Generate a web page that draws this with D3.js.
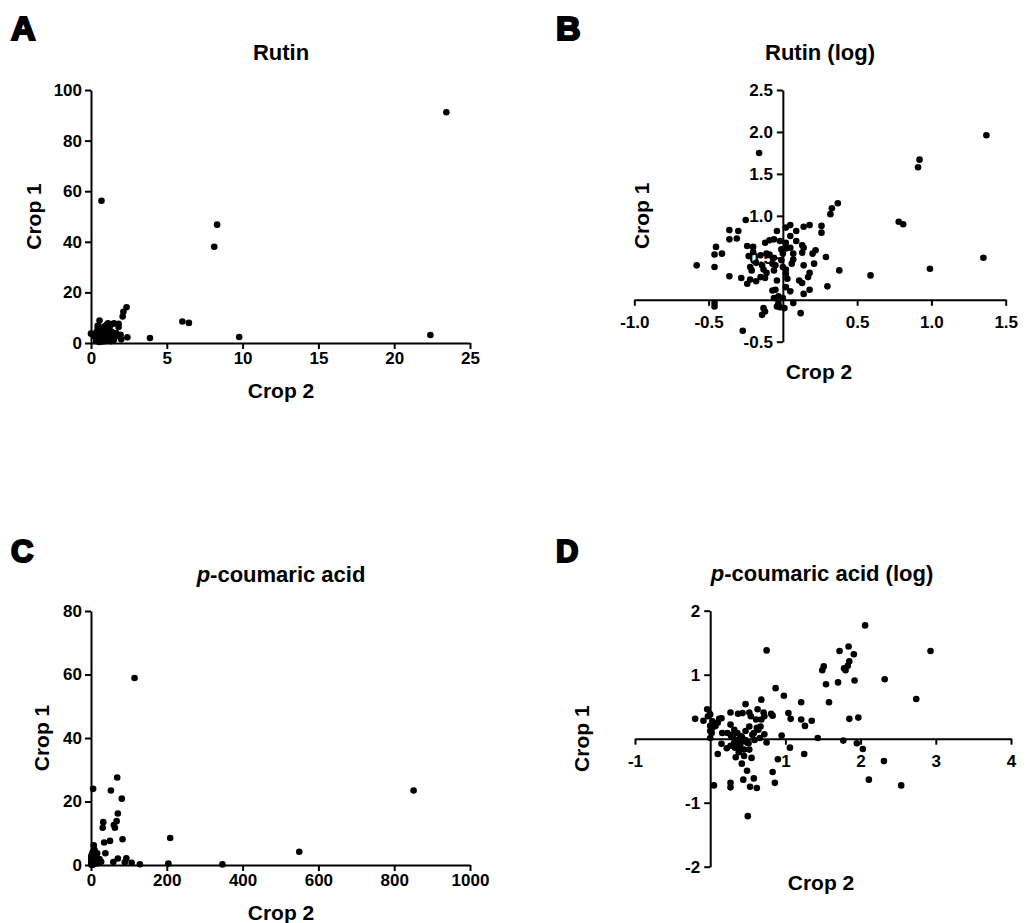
<!DOCTYPE html>
<html>
<head>
<meta charset="utf-8">
<script src="https://cdn.jsdelivr.net/npm/d3@7"></script>
<style>
  body { margin: 0; background: #fff; }
  svg text { font-family: "Liberation Sans", Arial, sans-serif; font-weight: bold; fill: #000; }
</style>
</head>
<body>
<svg width="1031" height="923"></svg>
<script>
// Panels A and C show the same samples untransformed.
const rutinLog = [
  [1.37, 1.96], [0.92, 1.67], [0.91, 1.58], [-0.16, 1.75], [0.37, 1.15], [0.33, 1.09], [0.32, 1.02],
  [0.78, 0.93], [0.81, 0.90], [1.35, 0.50], [0.99, 0.37], [0.59, 0.29], [0.38, 0.35], [0.30, 0.16],
  [0.29, 0.51], [0.26, 0.88], [0.26, 0.80], [0.18, 0.89], [0.14, 0.87], [0.09, 0.82], [0.05, 0.89],
  [0.02, 0.86], [0.05, 0.76], [0.09, 0.70], [0.13, 0.65], [0.14, 0.62], [0.22, 0.59], [0.20, 0.55],
  [0.13, 0.56], [0.07, 0.55], [0.05, 0.62], [0.02, 0.61], [-0.02, 0.70], [0.02, 0.68], [0.07, 0.48],
  [0.06, 0.43], [0.14, 0.41], [0.21, 0.43], [0.18, 0.32], [0.17, 0.27], [0.13, 0.20], [0.11, 0.23],
  [0.18, 0.12], [0.14, 0.07], [0.02, 0.36], [0.02, 0.31], [0.03, 0.25], [0.02, 0.15], [0.07, -0.04],
  [0.12, -0.16], [0.00, 0.02], [-0.03, 0.04], [-0.06, 0.02], [-0.03, -0.04], [-0.04, -0.08],
  [-0.02, -0.09], [-0.13, -0.10], [-0.12, -0.14], [-0.14, -0.18], [-0.27, -0.37], [-0.46, -0.04],
  [-0.46, -0.08], [-0.58, 0.41], [-0.46, 0.39], [-0.36, 0.28], [-0.28, 0.26], [-0.46, 0.54],
  [-0.41, 0.55], [-0.45, 0.63], [-0.36, 0.72], [-0.36, 0.83], [-0.31, 0.73], [-0.30, 0.82],
  [-0.25, 0.95], [-0.24, 0.64], [-0.20, 0.63], [-0.23, 0.52], [-0.22, 0.39], [-0.21, 0.35],
  [-0.24, 0.19], [-0.22, 0.24], [-0.18, 0.22], [-0.15, 0.27], [-0.12, 0.26], [-0.11, 0.32],
  [-0.14, 0.41], [-0.18, 0.44], [-0.15, 0.53], [-0.09, 0.54], [-0.06, 0.50], [-0.05, 0.41],
  [-0.07, 0.43], [-0.12, 0.68], [-0.09, 0.71], [-0.06, 0.72], [-0.04, 0.82], [-0.11, 0.55],
  [-0.04, 0.23], [-0.05, 0.12], [-0.07, 0.11], [-0.01, 0.60], [0.00, 0.55], [-0.01, 0.47],
  [0.00, 0.39], [-0.06, 0.35], [-0.20, 0.57], [-0.13, 0.36], [0.01, -0.10], [0.05, 0.10]
];

const coumaricLog = [
  [2.06, 1.77], [2.93, 1.37], [0.75, 1.38], [1.72, 1.37], [1.84, 1.44], [1.91, 1.32], [1.85, 1.21],
  [1.83, 1.14], [1.78, 1.10], [1.80, 1.07], [1.51, 1.13], [1.49, 1.07], [2.32, 0.93], [1.92, 0.91],
  [1.70, 0.88], [1.54, 0.85], [0.87, 0.79], [0.98, 0.67], [1.58, 0.57], [1.21, 0.57], [2.74, 0.62],
  [1.85, 0.31], [1.97, 0.33], [1.35, 0.28], [1.21, 0.30], [1.26, 0.20], [1.04, 0.40], [1.07, 0.31],
  [1.43, 0.01], [1.77, -0.03], [1.95, -0.07], [2.03, -0.16], [2.31, -0.35], [2.11, -0.64],
  [2.54, -0.73], [1.25, -0.24], [1.06, -0.14], [0.95, 0.05], [0.90, -0.32], [0.83, -0.52],
  [0.86, -0.69], [0.50, -1.21], [0.58, -0.62], [0.62, -0.77], [0.53, -0.75], [0.44, -0.64],
  [0.49, -0.50], [0.42, -0.39], [0.55, -0.30], [0.27, -0.69], [0.27, -0.76], [0.05, -0.73],
  [0.10, -0.24], [0.75, -0.06], [0.72, 0.07], [0.67, 0.19], [0.62, 0.17], [0.59, -0.02],
  [0.61, 0.30], [0.68, 0.30], [0.72, 0.35], [0.81, 0.39], [0.83, 0.36], [0.71, 0.41], [0.63, 0.46],
  [0.68, 0.61], [0.54, 0.35], [0.52, 0.41], [0.47, 0.54], [0.43, 0.40], [0.37, 0.39], [0.27, 0.41],
  [0.27, 0.22], [0.16, 0.09], [0.23, 0.09], [0.28, 0.04], [0.47, 0.12], [0.52, 0.19], [0.56, 0.06],
  [0.36, -0.07], [0.39, -0.16], [0.34, -0.29], [0.22, -0.15], [0.15, -0.08], [0.45, -0.17],
  [0.52, -0.17], [-0.20, 0.31], [-0.09, 0.28], [-0.04, 0.46], [-0.03, 0.35], [0.03, 0.27],
  [0.06, 0.23], [0.12, 0.31], [0.03, 0.17], [0.00, 0.01], [0.02, 0.09], [0.30, 0.06], [0.32, -0.06],
  [0.40, 0.04], [0.36, 0.09], [0.43, -0.04], [0.49, -0.06], [0.32, 0.14], [0.30, 0.03],
  [0.35, -0.02], [0.42, 0.03], [0.47, -0.02], [0.51, -0.07], [0.27, -0.11], [0.33, -0.14],
  [0.40, -0.10], [0.64, 0.14], [0.07, 0.20], [0.10, 0.25], [0.15, 0.32], [0.00, 0.38], [0.00, 0.20],
  [0.00, 0.12], [0.58, 0.09], [0.66, 0.01], [0.45, -0.27], [0.38, -0.21]
];

// crop 2 = 0 for this sample, so it has no point on the log panel
const rutinRawOnly = [[0.0, 3.7]];

const rutinTicksX = [0, 5, 10, 15, 20, 25];
const rutinTicksY = [0, 20, 40, 60, 80, 100];
const rutinLogTicksX = [-1.0, -0.5, 0.5, 1.0, 1.5];
const rutinLogTicksY = [-0.5, 0.5, 1.0, 1.5, 2.0, 2.5];
const coumTicksX = [0, 200, 400, 600, 800, 1000];
const coumTicksY = [0, 20, 40, 60, 80];
const coumLogTicksX = [-1, 1, 2, 3, 4];
const coumLogTicksY = [-2, -1, 1, 2];

const unlog = d => [Math.pow(10, d[0]), Math.pow(10, d[1])];
const rutinRaw = rutinLog.map(unlog).concat(rutinRawOnly);
const coumRaw = coumaricLog.map(unlog);

const svg = d3.select('svg');

function drawPanel(p) {
  const g = svg.append('g');
  const x = d3.scaleLinear().domain(p.xDomain).range(p.xRange);
  const y = d3.scaleLinear().domain(p.yDomain).range(p.yRange);
  const axisY = p.cross ? y(0) : p.yRange[0];
  const axisX = p.cross ? x(0) : p.xRange[0];

  const xAxis = g.append('g')
    .attr('transform', `translate(0,${axisY})`)
    .call(d3.axisBottom(x).tickValues(p.xTicks).tickFormat(p.fmt)
      .tickSize(6).tickSizeOuter(0).tickPadding(p.cross ? 10 : 3));
  const yAxis = g.append('g')
    .attr('transform', `translate(${axisX},0)`)
    .call(d3.axisLeft(y).tickValues(p.yTicks).tickFormat(p.fmt)
      .tickSize(6).tickSizeOuter(0).tickPadding(p.cross ? 4 : 3));

  [xAxis, yAxis].forEach(a => {
    a.attr('font-size', 17);
    a.selectAll('path, line').attr('stroke', '#000').attr('stroke-width', 2);
  });

  g.selectAll('circle')
    .data(p.points)
    .join('circle')
    .attr('cx', d => x(d[0]))
    .attr('cy', d => y(d[1]))
    .attr('r', 3.3)
    .attr('fill', '#000');

  // panel letter
  g.append('text')
    .attr('x', p.letterX).attr('y', p.letterY)
    .attr('font-size', p.letterSize)
    .attr('stroke', '#000').attr('stroke-width', 2.2)
    .text(p.letter);

  const title = g.append('text')
    .attr('x', p.titleX).attr('y', p.titleY)
    .attr('text-anchor', 'middle')
    .attr('font-size', 22);
  if (p.italicP) {
    title.append('tspan').attr('font-style', 'italic').text('p');
  }
  title.append('tspan').text(p.title);

  g.append('text')
    .attr('x', p.xTitleX).attr('y', p.xTitleY)
    .attr('text-anchor', 'middle')
    .attr('font-size', 21)
    .text('Crop 2');

  g.append('text')
    .attr('transform', `translate(${p.yTitleX},${(p.yRange[0] + p.yRange[1]) / 2}) rotate(-90)`)
    .attr('text-anchor', 'middle')
    .attr('font-size', 21)
    .text('Crop 1');
}

const plain = d => String(d);

drawPanel({
  letter: 'A', letterX: 11, letterY: 40, letterSize: 34,
  title: 'Rutin', titleX: 281, titleY: 60,
  xDomain: [0, 25], xRange: [91, 470], xTicks: rutinTicksX,
  yDomain: [0, 100], yRange: [343, 90], yTicks: rutinTicksY,
  fmt: plain, cross: false, points: rutinRaw,
  xTitleX: 281, xTitleY: 398, yTitleX: 41
});

drawPanel({
  letter: 'B', letterX: 556, letterY: 40, letterSize: 34,
  title: 'Rutin (log)', titleX: 820, titleY: 60,
  xDomain: [-1, 1.5], xRange: [634.3, 1005.7], xTicks: rutinLogTicksX,
  yDomain: [-0.5, 2.5], yRange: [341.7, 90], yTicks: rutinLogTicksY,
  fmt: d => d.toFixed(1), cross: true, points: rutinLog,
  xTitleX: 819, xTitleY: 379, yTitleX: 649
});

drawPanel({
  letter: 'C', letterX: 11, letterY: 562, letterSize: 31,
  title: '-coumaric acid', italicP: true, titleX: 281, titleY: 582,
  xDomain: [0, 1000], xRange: [91, 470], xTicks: coumTicksX,
  yDomain: [0, 80], yRange: [865, 611], yTicks: coumTicksY,
  fmt: plain, cross: false, points: coumRaw,
  xTitleX: 281, xTitleY: 920, yTitleX: 49
});

drawPanel({
  letter: 'D', letterX: 556, letterY: 562, letterSize: 31,
  title: '-coumaric acid (log)', italicP: true, titleX: 822, titleY: 581,
  xDomain: [-1, 4], xRange: [635, 1011], xTicks: coumLogTicksX,
  yDomain: [-2, 2], yRange: [866.7, 610.7], yTicks: coumLogTicksY,
  fmt: plain, cross: true, points: coumaricLog,
  xTitleX: 821, xTitleY: 890, yTitleX: 589
});
</script>
</body>
</html>
